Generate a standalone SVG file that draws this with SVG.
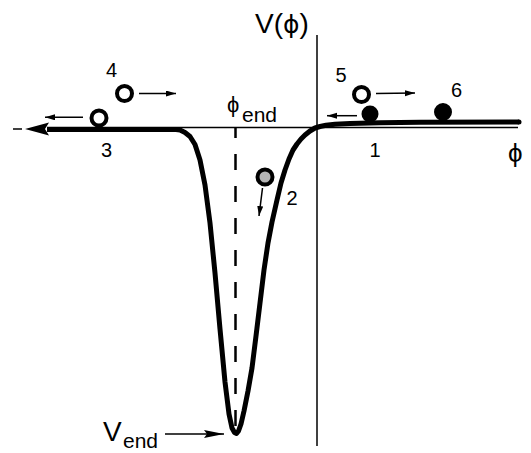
<svg xmlns="http://www.w3.org/2000/svg" width="531" height="453" viewBox="0 0 531 453">
<style>
text{font-family:"Liberation Sans","DejaVu Sans",Arial,sans-serif;fill:#000}
.num{font-size:20px;text-anchor:middle}
.ax{stroke:#000;stroke-width:1.5;fill:none}
.pot{stroke:#000;stroke-width:5;fill:none;stroke-linejoin:round}
.arr{stroke:#000;stroke-width:1.5;fill:none;marker-end:url(#ah)}
.ball{stroke:#000;stroke-width:4}
</style>
<defs>
<marker id="ah" markerUnits="userSpaceOnUse" markerWidth="12" markerHeight="8" refX="10" refY="3" orient="auto">
<path d="M0,0 L10,3 L0,6 Z" fill="#000"/>
</marker>
<marker id="ahl" markerUnits="userSpaceOnUse" markerWidth="22" markerHeight="10" refX="20" refY="4" orient="auto">
<path d="M0,0 L20,4 L0,8 L3,4 Z" fill="#000"/>
</marker>
</defs>
<g id="axes">
<line class="ax" x1="317" y1="35" x2="317" y2="446"/>
<line class="ax" x1="47" y1="127.5" x2="518" y2="127.5"/>
<line class="ax" x1="13" y1="129" x2="22" y2="129"/>
<line x1="235.5" y1="128" x2="235.5" y2="430" stroke="#000" stroke-width="2.5" stroke-dasharray="16 16" stroke-dashoffset="6"/>
</g>
<g id="potential">
<path class="pot" d="M47,129.5 L176,129.5 L180,130 L185,132.5 L190,136.5 L195,144.5 L200,160 L205,185 L210,223 L215,273 L220,329 L225,382 L229,414 L232,428 L234.5,432.5 L236.5,433.5 L238.5,431 L241,424 L244,411 L248,391 L252,368 L256,336 L260,303 L264,270 L268,243 L272,222 L277,200 L281,183 L285,170 L289,159 L293,150 L297,144 L301,139 L305,135 L310,131 L315,128 L320,126.5 L326,125.3 L335,124.3 L350,123.4 L380,122.7 L420,122.3 L519,122"/>
<path d="M519,122 L519,122" stroke="#000" stroke-width="5" stroke-linecap="round"/>
<path d="M25,129 L49,122.5 L45,129 L49,135.5 Z" fill="#000"/>
</g>
<g id="labels">
<text x="255" y="33" font-size="28">V(<tspan font-family="DejaVu Sans" font-size="25">ϕ</tspan>)</text>
<text x="227" y="112" font-size="22" font-family="DejaVu Sans">ϕ</text>
<text x="242" y="122" font-size="21">end</text>
<text x="508" y="162" font-size="26" font-family="DejaVu Sans">ϕ</text>
<text x="103" y="441" font-size="28">V</text>
<text x="123" y="448" font-size="21">end</text>
</g>
<g id="ball1"><circle class="ball" cx="370" cy="114" r="6.5" fill="#000"/><text class="num" x="375" y="157">1</text></g>
<g id="ball2"><circle class="ball" cx="265" cy="177" r="7.5" fill="#b4b4b4"/><text class="num" x="292" y="205">2</text></g>
<g id="ball3"><circle class="ball" cx="99" cy="118" r="7.5" fill="#fff"/><text class="num" x="106.5" y="157">3</text></g>
<g id="ball4"><circle class="ball" cx="124.5" cy="93.5" r="7.5" fill="#fff"/><text class="num" x="111.5" y="77">4</text></g>
<g id="ball5"><circle class="ball" cx="361.5" cy="94.5" r="7.5" fill="#fff"/><text class="num" x="341" y="82">5</text></g>
<g id="ball6"><circle class="ball" cx="443" cy="112" r="7" fill="#000"/><text class="num" x="456.5" y="97">6</text></g>
<g id="connectors">
<line class="arr" x1="139" y1="93.5" x2="176" y2="93.5"/>
<line class="arr" x1="83" y1="117.3" x2="45" y2="117.3"/>
<line class="arr" x1="376" y1="93.5" x2="415" y2="93"/>
<line class="arr" x1="357" y1="115.7" x2="327" y2="115.7"/>
<line class="arr" x1="262.5" y1="188" x2="259" y2="216"/>
<line x1="165" y1="434" x2="224" y2="434" stroke="#000" stroke-width="1.5" marker-end="url(#ahl)"/>
</g>
</svg>
